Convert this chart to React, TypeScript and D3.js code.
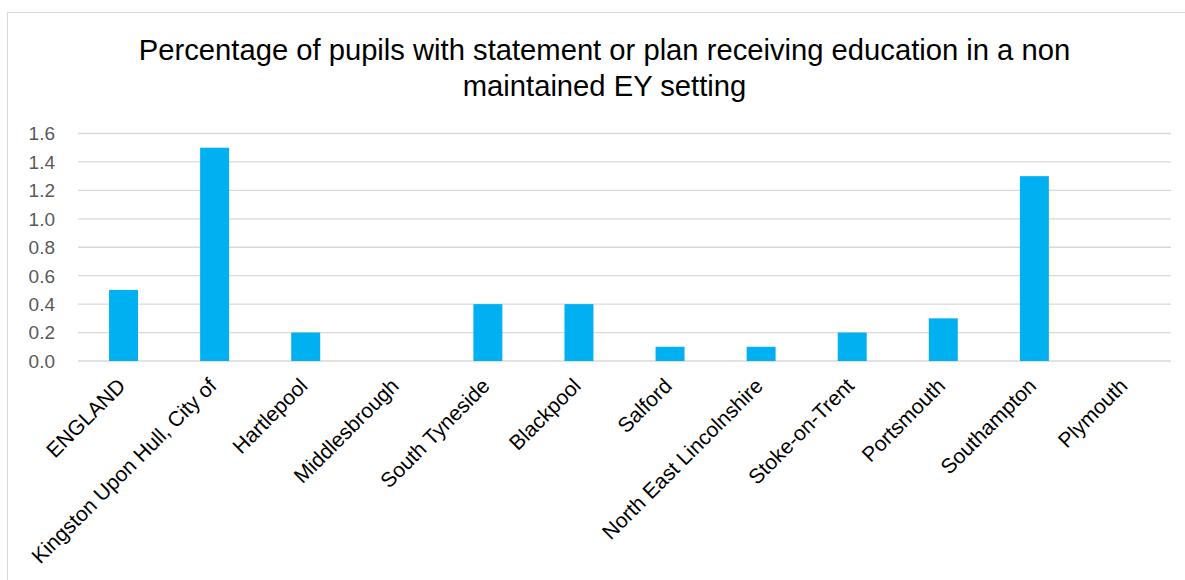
import React from "react";
import * as d3 from "d3";

const categories = [
  "ENGLAND",
  "Kingston Upon Hull, City of",
  "Hartlepool",
  "Middlesbrough",
  "South Tyneside",
  "Blackpool",
  "Salford",
  "North East Lincolnshire",
  "Stoke-on-Trent",
  "Portsmouth",
  "Southampton",
  "Plymouth",
];
const values = [0.5, 1.5, 0.2, 0, 0.4, 0.4, 0.1, 0.1, 0.2, 0.3, 1.3, 0];
const yTicks = [0, 0.2, 0.4, 0.6, 0.8, 1.0, 1.2, 1.4, 1.6];
const titleLines = [
  "Percentage of pupils with statement or plan receiving education in a non",
  "maintained EY setting",
];

const W = 1185;
const H = 580;
const plot = { left: 78, right: 1171, top: 133.5, bottom: 361 };

export default function App() {
  const x = d3
    .scaleBand<string>()
    .domain(categories)
    .range([plot.left, plot.right])
    .paddingInner(0.682)
    .paddingOuter(0.341);
  const y = d3.scaleLinear().domain([0, 1.6]).range([plot.bottom, plot.top]);

  return (
    <svg
      width={W}
      height={H}
      style={{ position: "absolute", left: 0, top: 0, background: "#fff" }}
      fontFamily="'Liberation Sans', Arial, sans-serif"
    >
      <rect x={7.5} y={12.5} width={W + 20} height={H + 20} fill="#fff" stroke="#d9d9d9" strokeWidth={1} />
      {titleLines.map((t, i) => (
        <text key={i} x={604.5} y={60 + i * 35.5} textAnchor="middle" fontSize={29.2} fill="#000">
          {t}
        </text>
      ))}
      {yTicks.map((t) => (
        <g key={t}>
          <line x1={plot.left} x2={plot.right} y1={y(t)} y2={y(t)} stroke="#d9d9d9" strokeWidth={1.3} />
          <text x={55} y={y(t)} dy="0.36em" textAnchor="end" fontSize={19} fill="#595959">
            {d3.format(".1f")(t)}
          </text>
        </g>
      ))}
      {categories.map((c, i) => (
        <rect
          key={c}
          x={x(c)}
          width={x.bandwidth()}
          y={y(values[i])}
          height={plot.bottom - y(values[i])}
          fill="#00b0f0"
        />
      ))}
      {categories.map((c) => {
        const cx = (x(c) as number) + x.bandwidth() / 2;
        return (
          <text
            key={c}
            transform={`translate(${cx - 2},${plot.bottom + 21}) rotate(-45)`}
            textAnchor="end"
            dy="0.35em"
            fontSize={21}
            fill="#000"
          >
            {c}
          </text>
        );
      })}
    </svg>
  );
}
